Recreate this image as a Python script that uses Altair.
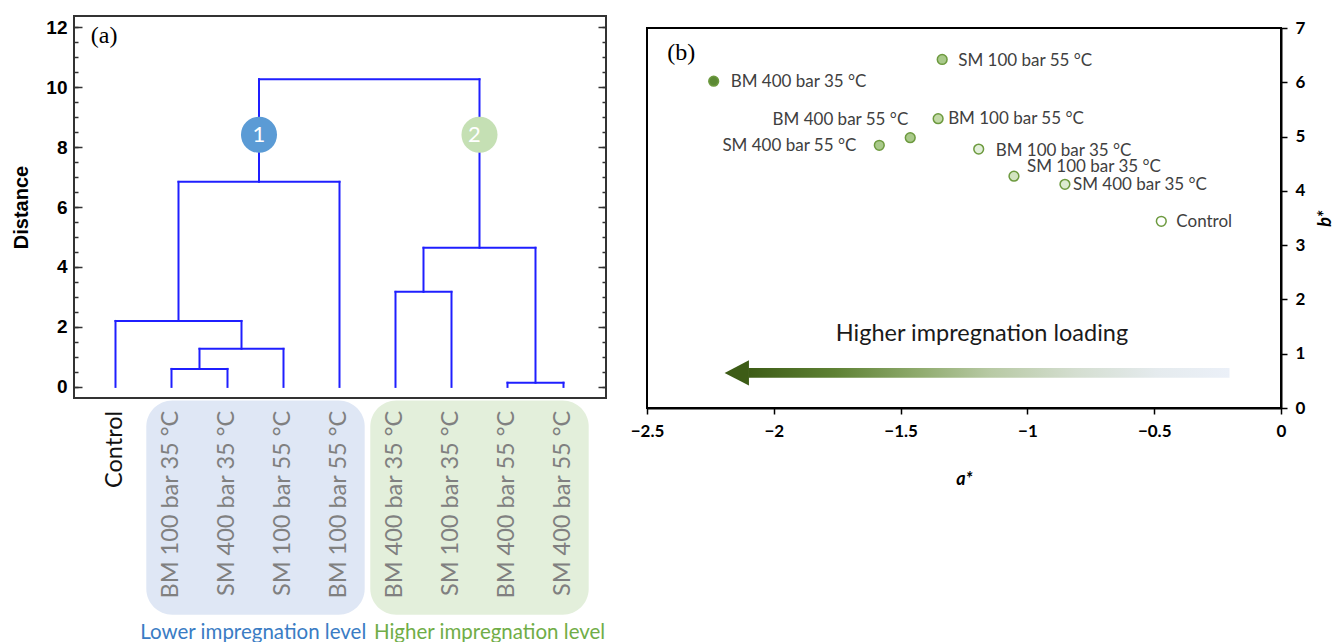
import altair as alt
import pandas as pd

# ---------------- Panel (a): hierarchical clustering ----------------
leaf_names = ["Control", "BM 100 bar 35 °C", "SM 400 bar 35 °C", "SM 100 bar 55 °C",
              "BM 100 bar 55 °C", "BM 400 bar 35 °C", "SM 100 bar 35 °C",
              "BM 400 bar 55 °C", "SM 400 bar 55 °C"]
# merges (leaves are nodes 0-8, each merge creates node 9, 10, ...)
merge_left = [1, 9, 0, 11, 7, 5, 14, 12]
merge_right = [2, 3, 10, 4, 8, 6, 13, 15]
merge_distance = [0.60, 1.27, 2.20, 6.84, 0.14, 3.17, 4.64, 10.26]
cluster_ids = ["1", "2"]
cluster_node = [12, 15]
group_names = ["Lower impregnation level", "Higher impregnation level"]
group_first_leaf = [1, 5]
group_last_leaf = [4, 8]
distance_ticks = [0, 2, 4, 6, 8, 10, 12]
distance_minor = [0, 0.5, 1, 1.5, 2, 2.5, 3, 3.5, 4, 4.5, 5, 5.5, 6, 6.5, 7, 7.5,
                  8, 8.5, 9, 9.5, 10, 10.5, 11, 11.5, 12]

# ---------------- Panel (b): a* / b* colour scatter ----------------
sample_names = leaf_names
a_star = [-0.472, -1.192, -0.852, -1.336, -1.352, -2.237, -1.053, -1.462, -1.584]
b_star = [3.44, 4.77, 4.12, 6.42, 5.33, 6.02, 4.27, 4.98, 4.84]
a_ticks = [-2.5, -2, -1.5, -1, -0.5, 0]
b_ticks = [0, 1, 2, 3, 4, 5, 6, 7]

FONT = "Lato"
ARIAL = "Liberation Sans"
SERIF = "Liberation Serif"

# ---------- build dendrogram segments ----------
n_leaf = len(leaf_names)
node_x = [float(i) for i in range(n_leaf)]
node_h = [0.0] * n_leaf
for l, r, h in zip(merge_left, merge_right, merge_distance):
    node_x.append((node_x[l] + node_x[r]) / 2)
    node_h.append(h)
rows = []
for l, r, h in zip(merge_left, merge_right, merge_distance):
    rows.append(dict(x=node_x[l], x2=node_x[l], y=node_h[l], y2=h))
    rows.append(dict(x=node_x[r], x2=node_x[r], y=node_h[r], y2=h))
    rows.append(dict(x=node_x[l], x2=node_x[r], y=h, y2=h))
seg_df = pd.DataFrame(rows)

W_A, H_A = 532, 382
xs_a = alt.Scale(domain=[-0.741, 8.759], nice=False, zero=False)
ys_a = alt.Scale(domain=[-0.37, 12.37], nice=False, zero=False)

layers_a = []

# rounded group boxes + group captions
box_colors = ["#dfe7f5", "#e3efdb"]
caption_colors = ["#3a7cc4", "#70ad47"]
caption_x = [2.46, 6.68]
for i, g in enumerate(group_names):
    bdf = pd.DataFrame({"x": [group_first_leaf[i] - 0.45], "x2": [group_last_leaf[i] + 0.45]})
    layers_a.append(
        alt.Chart(bdf).mark_rect(cornerRadius=26, color=box_colors[i]).encode(
            x=alt.X("x:Q", scale=xs_a, axis=None), x2="x2:Q",
            y=alt.YDatum(-0.45, scale=ys_a, axis=None), y2=alt.Y2Datum(-7.6)))
    cdf = pd.DataFrame({"t": [g], "x": [caption_x[i]]})
    layers_a.append(
        alt.Chart(cdf).mark_text(font=FONT, fontSize=20.5, color=caption_colors[i],
                                 baseline="middle", align="center").encode(
            x=alt.X("x:Q", scale=xs_a, axis=None),
            y=alt.YDatum(-8.2, scale=ys_a, axis=None), text="t:N"))

# leaf labels (rotated)
lab_df = pd.DataFrame({"name": leaf_names, "idx": list(range(n_leaf))})
layers_a.append(
    alt.Chart(lab_df).mark_text(angle=270, align="right", baseline="middle",
                                font=FONT, fontSize=23.5).encode(
        x=alt.X("idx:Q", scale=xs_a, axis=None),
        y=alt.YDatum(-0.8, scale=ys_a, axis=None),
        text="name:N",
        color=alt.condition("datum.name == 'Control'", alt.value("#111111"), alt.value("#808080"))))

# dendrogram lines with labelled left axis
axis_main = alt.Axis(orient="left", values=distance_ticks, ticks=False, domain=False, grid=False,
                     labelFont=ARIAL, labelFontWeight="bold", labelFontSize=19, labelColor="black",
                     labelPadding=7, title="Distance", titleFont=ARIAL, titleFontWeight="bold",
                     titleFontSize=20, titleColor="black", titlePadding=14)
layers_a.append(
    alt.Chart(seg_df).mark_rule(color="#1f1fff", strokeWidth=2, strokeCap="square").encode(
        x=alt.X("x:Q", scale=xs_a, axis=None), x2="x2:Q",
        y=alt.Y("y:Q", scale=ys_a, axis=axis_main), y2="y2:Q"))

# inward ticks on both sides (major + minor)
tick_common = dict(labels=False, domain=False, grid=False, title=None,
                   tickColor="#333333", tickWidth=1.5)
for orient in ["right", "left"]:
    for vals, size in [(distance_ticks, 8), (distance_minor, 4)]:
        ax = alt.Axis(orient=orient, offset=-W_A, values=vals, tickSize=size, **tick_common)
        layers_a.append(
            alt.Chart(seg_df).mark_point(opacity=0).encode(
                x=alt.X("x:Q", scale=xs_a, axis=None),
                y=alt.Y("y:Q", scale=ys_a, axis=ax)))

# cluster badges
badge_colors = ["#5b9bd5", "#c5e0b4"]
badge_dx = [0, -5]
for i, cid in enumerate(cluster_ids):
    bdf = pd.DataFrame({"x": [node_x[cluster_node[i]]], "t": [cid]})
    layers_a.append(
        alt.Chart(bdf).mark_point(shape="circle", filled=True, size=1300, opacity=1,
                                  color=badge_colors[i], dx=badge_dx[i]).encode(
            x=alt.X("x:Q", scale=xs_a, axis=None),
            y=alt.YDatum(8.41, scale=ys_a, axis=None)))
    layers_a.append(
        alt.Chart(bdf).mark_text(font=FONT, fontSize=22, color="white", baseline="middle",
                                 dx=badge_dx[i]).encode(
            x=alt.X("x:Q", scale=xs_a, axis=None),
            y=alt.YDatum(8.41, scale=ys_a, axis=None), text="t:N"))

# panel tag
layers_a.append(
    alt.Chart(pd.DataFrame({"t": ["(a)"]})).mark_text(font=SERIF, fontSize=24, align="left",
                                                     baseline="middle", color="black").encode(
        x=alt.XDatum(-0.44, scale=xs_a, axis=None),
        y=alt.YDatum(11.7, scale=ys_a, axis=None), text="t:N"))

panel_a = alt.layer(*layers_a).resolve_axis(y="independent").properties(
    width=W_A, height=H_A, view=alt.ViewBackground(stroke="#333333", strokeWidth=2))

# ---------------- Panel (b) ----------------
W_B, H_B = 634, 380
xs_b = alt.Scale(domain=[-2.5, 0], nice=False, zero=False)
ys_b = alt.Scale(domain=[0, 7], nice=False, zero=False)

x_axis_b = alt.Axis(values=a_ticks, format="~g", orient="bottom", grid=False, labelFlush=False,
                    domainColor="black", domainWidth=2, tickColor="black", tickSize=6, tickWidth=1.5,
                    labelFont=FONT, labelFontWeight="bold", labelFontSize=17, labelColor="black",
                    labelPadding=9, title="a*", titleFont=FONT, titleFontSize=18,
                    titleFontWeight="bold", titleFontStyle="italic", titleColor="black",
                    titlePadding=31)
y_axis_b = alt.Axis(values=b_ticks, format="~g", orient="right", grid=False, labelFlush=False,
                    domainColor="black", domainWidth=2, tickColor="black", tickSize=6, tickWidth=1.5,
                    labelFont=FONT, labelFontWeight="bold", labelFontSize=17, labelColor="black",
                    labelPadding=8, title="b*", titleFont=FONT, titleFontSize=18,
                    titleFontWeight="bold", titleFontStyle="italic", titleColor="black",
                    titleAngle=270, titlePadding=30)

pts_df = pd.DataFrame({"name": sample_names, "a": a_star, "b": b_star})
point_fills = ["#ffffff", "#e2efda", "#dcebd0", "#a9c98a", "#c2d9a6",
               "#5c8a34", "#d2e4c0", "#a9c98a", "#a9c98a"]

layers_b = []
# arrow shaft (gradient) and head
layers_b.append(
    alt.Chart(pd.DataFrame({"k": [0]})).mark_rect(
        color=alt.Gradient(gradient="linear", x1=0, x2=1, y1=0, y2=0, stops=[
            alt.GradientStop(color="#3d5c16", offset=0),
            alt.GradientStop(color="#5e8134", offset=0.18),
            alt.GradientStop(color="#8eaa6c", offset=0.35),
            alt.GradientStop(color="#b7c9a3", offset=0.5),
            alt.GradientStop(color="#d4ded0", offset=0.68),
            alt.GradientStop(color="#e5ebee", offset=0.85),
            alt.GradientStop(color="#ebf0f8", offset=1)])).encode(
        x=alt.XDatum(-2.10, scale=xs_b, axis=x_axis_b), x2=alt.X2Datum(-0.203),
        y=alt.YDatum(0.555, scale=ys_b, axis=y_axis_b), y2=alt.Y2Datum(0.735)))
layers_b.append(
    alt.Chart(pd.DataFrame({"k": [0]})).mark_point(
        shape="M 1 -1.04 L -1 0 L 1 1.04 Z", filled=True, size=590, opacity=1,
        color="#3d5c16").encode(
        x=alt.XDatum(-2.146, scale=xs_b), y=alt.YDatum(0.645, scale=ys_b)))
layers_b.append(
    alt.Chart(pd.DataFrame({"t": ["Higher impregnation loading"]})).mark_text(
        font=FONT, fontSize=23.5, color="#1a1a1a", baseline="middle").encode(
        x=alt.XDatum(-1.179, scale=xs_b), y=alt.YDatum(1.36, scale=ys_b), text="t:N"))

# points
layers_b.append(
    alt.Chart(pts_df).mark_point(filled=True, size=95, opacity=1, stroke="#6d9a3f",
                                 strokeWidth=1.5).encode(
        x=alt.X("a:Q", scale=xs_b, axis=x_axis_b),
        y=alt.Y("b:Q", scale=ys_b, axis=y_axis_b),
        fill=alt.Fill("name:N", scale=alt.Scale(domain=sample_names, range=point_fills),
                      legend=None)))

# point labels (placement per label)
placement = {
    "Control": ("left", 15, 1),
    "BM 100 bar 35 °C": ("left", 17, 2),
    "SM 400 bar 35 °C": ("left", 8, 1),
    "SM 100 bar 55 °C": ("left", 16, 2),
    "BM 100 bar 55 °C": ("left", 10, 0),
    "BM 400 bar 35 °C": ("left", 17, 1),
    "SM 100 bar 35 °C": ("left", 13, -9),
    "BM 400 bar 55 °C": ("right", -2, -18),
    "SM 400 bar 55 °C": ("right", -23, 1),
}
for nm in sample_names:
    al, dx, dy = placement[nm]
    layers_b.append(
        alt.Chart(pts_df).transform_filter(alt.datum.name == nm).mark_text(
            align=al, dx=dx, dy=dy, baseline="middle", font=FONT, fontSize=17,
            color="#404040").encode(
            x=alt.X("a:Q", scale=xs_b), y=alt.Y("b:Q", scale=ys_b), text="name:N"))

layers_b.append(
    alt.Chart(pd.DataFrame({"t": ["(b)"]})).mark_text(font=SERIF, fontSize=24, align="left",
                                                     baseline="middle", color="black").encode(
        x=alt.XDatum(-2.42, scale=xs_b), y=alt.YDatum(6.54, scale=ys_b), text="t:N"))

panel_b = alt.layer(*layers_b).properties(
    width=W_B, height=H_B, view=alt.ViewBackground(stroke="black", strokeWidth=2))

spacer = alt.Chart(pd.DataFrame({"v": [0]})).mark_point(opacity=0).encode(
    x=alt.X("v:Q", axis=None), y=alt.Y("v:Q", axis=None)).properties(
    width=W_B, height=12, view=alt.ViewBackground(stroke="transparent"))

chart = alt.hconcat(
    panel_a,
    alt.vconcat(spacer, panel_b, spacing=0, bounds="flush"),
    spacing=41, bounds="flush",
).properties(
    padding={"left": 10, "top": 15, "right": 0, "bottom": 0},
    background="white",
)

chart.save("out.html", embed_options={"renderer": "svg", "actions": False})
